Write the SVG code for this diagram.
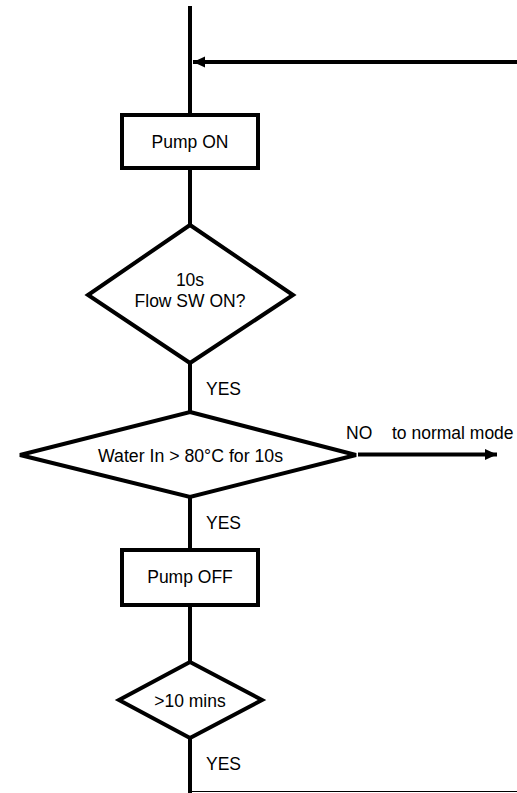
<svg xmlns="http://www.w3.org/2000/svg" width="517" height="793" viewBox="0 0 517 793">
<style>
.s{fill:#fff;stroke:#000;stroke-width:4;stroke-linejoin:miter}
.c{fill:none;stroke:#000;stroke-width:4}
.t{font-family:"Liberation Sans",Arial,sans-serif;font-size:17.5px;fill:#000}
.m{text-anchor:middle}
</style>
<defs>
<marker id="ah" viewBox="0 0 12 12" refX="12" refY="6" markerWidth="12" markerHeight="12" markerUnits="userSpaceOnUse" orient="auto">
<path d="M0,0.5 L12,6 L0,11.5 z" fill="#000"/>
</marker>
</defs>
<g id="connectors">
<line class="c" x1="190" y1="6" x2="190" y2="115"/>
<line class="c" x1="517" y1="62" x2="193" y2="62" marker-end="url(#ah)"/>
<line class="c" x1="190" y1="168" x2="190" y2="225"/>
<line class="c" x1="190" y1="363" x2="190" y2="412"/>
<line class="c" x1="358" y1="454.5" x2="497" y2="454.5" marker-end="url(#ah)"/>
<line class="c" x1="190" y1="497" x2="190" y2="550"/>
<line class="c" x1="190" y1="605" x2="190" y2="662"/>
<line class="c" x1="190" y1="738" x2="190" y2="793"/>
<line x1="190" y1="791.5" x2="517" y2="791.5" stroke="#000" stroke-width="1.2"/>
<text class="t" x="206" y="395">YES</text>
<text class="t" x="346" y="439">NO</text>
<text class="t" x="392" y="439">to normal mode</text>
<text class="t" x="206" y="529">YES</text>
<text class="t" x="206" y="770">YES</text>
</g>
<g id="pump-on">
<rect class="s" x="122" y="115" width="136" height="53"/>
<text class="t m" x="190" y="148">Pump ON</text>
</g>
<g id="flow-sw">
<polygon class="s" points="190,225 293,295 190,363 88,295"/>
<text class="t m" x="190" y="286">10s</text>
<text class="t m" x="190" y="306.5">Flow SW ON?</text>
</g>
<g id="water-in">
<polygon class="s" points="190,412 356,455 190,497 20,455"/>
<text class="t m" x="190.5" y="462" textLength="185" lengthAdjust="spacingAndGlyphs">Water In &gt; 80°C for 10s</text>
</g>
<g id="pump-off">
<rect class="s" x="122" y="550" width="136" height="55"/>
<text class="t m" x="190" y="582.5">Pump OFF</text>
</g>
<g id="ten-mins">
<polygon class="s" points="190,662 262,700 190,738 119,700"/>
<text class="t m" x="190" y="706.5">&gt;10 mins</text>
</g>
</svg>
